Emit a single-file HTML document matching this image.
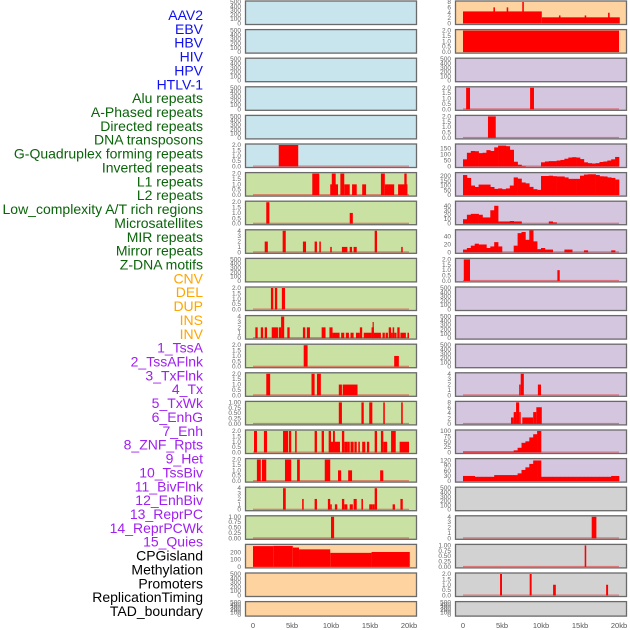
<!DOCTYPE html>
<html><head><meta charset="utf-8"><style>
html,body{margin:0;padding:0;background:#fff;width:630px;height:630px;overflow:hidden}
svg{display:block}
text{font-family:"Liberation Sans",sans-serif}
</style></head><body>
<svg id="chart" width="630" height="630"></svg>
<script>
// ---- labels ----
const trackLabels=["AAV2","EBV","HBV","HIV","HPV","HTLV-1","Alu repeats","A-Phased repeats","Directed repeats","DNA transposons","G-Quadruplex forming repeats","Inverted repeats","L1 repeats","L2 repeats","Low_complexity A/T rich regions","Microsatellites","MIR repeats","Mirror repeats","Z-DNA motifs","CNV","DEL","DUP","INS","INV","1_TssA","2_TssAFlnk","3_TxFlnk","4_Tx","5_TxWk","6_EnhG","7_Enh","8_ZNF_Rpts","9_Het","10_TssBiv","11_BivFlnk","12_EnhBiv","13_ReprPC","14_ReprPCWk","15_Quies","CPGisland","Methylation","Promoters","ReplicationTiming","TAD_boundary"];
const xTickLabels=["0","5kb","10kb","15kb","20kb"];
const xTickValues=[0,5,10,15,20];
// ---- left column bars [startKb,endKb,value] ----
const L5=[[3.3,5.8,2]];
const L6=[[7.6,8.5,2],[9.9,10.9,1],[10.1,10.6,2],[11.2,11.7,2],[11.7,12.4,1],[12.7,13.3,1],[14.0,14.5,1],[16.4,16.9,2],[16.9,18.1,1],[18.6,19.8,1],[19.4,19.7,2]];
const L7=[[1.7,2.1,2],[12.4,12.8,1]];
const L8=[[1.5,1.9,2],[3.8,4.2,4],[6.4,6.8,2],[7.9,8.2,2],[8.5,8.7,2],[9.9,10.1,1],[11.4,12.1,1],[12.4,12.7,1],[12.9,13.3,1],[15.6,15.9,4],[19.0,19.2,1]];
const L10=[[2.3,2.6,2],[2.8,3.1,2],[3.7,4.1,2]];
const L11=[[0.3,0.6,2],[1.0,1.3,2],[1.5,1.8,2],[2.4,3.2,2],[3.3,3.6,2],[3.6,4.0,4],[4.4,4.7,2],[6.4,6.7,2],[6.9,7.3,2],[8.8,9.3,2],[9.8,10.2,2],[10.2,11.1,1],[11.3,11.7,1],[11.9,12.3,1],[12.5,12.9,1],[13.2,13.7,1],[13.7,14.0,2],[14.2,15.2,1],[15.2,15.5,2],[15.33,15.43,3],[15.5,16.4,1],[16.6,16.9,1],[17.0,17.3,1],[17.4,17.7,2],[17.7,17.9,1],[17.9,18.1,2],[18.1,18.4,1],[18.5,18.8,2],[18.9,19.6,1],[19.8,20.0,1]];
const L12=[[6.5,7.0,2],[18.1,18.7,1]];
const L13=[[1.7,2.2,2],[7.5,7.9,2],[8.2,8.7,2],[11.0,11.4,1],[11.5,13.4,1]];
const L14=[[11.0,11.4,1],[13.9,14.2,1],[14.9,15.3,1],[16.7,16.9,1],[19.0,19.2,1]];
const L15=[[0.13,0.51,2],[1.4,1.8,2],[3.85,4.5,2],[4.6,4.9,2],[5.4,5.6,2],[7.9,8.2,2],[8.8,9.1,2],[9.7,10.0,2],[10.0,10.5,1],[10.25,10.5,2],[10.5,11.15,1],[11.4,11.7,2],[11.7,12.1,1],[12.1,12.4,1],[12.5,12.9,1],[13.0,13.3,1],[13.5,13.7,1],[14.0,14.4,1],[14.6,14.9,1],[15.6,15.9,2],[16.4,16.7,2],[16.7,17.2,1],[17.7,18.3,2],[18.8,20.0,1]];
const L16=[[0.5,1.0,2],[1.15,1.7,2],[4.1,4.9,2],[5.65,6.0,2],[9.2,9.9,2],[10.9,11.3,1],[12.2,12.7,1],[16.3,16.7,1]];
const L17=[[3.85,4.2,4],[6.3,6.5,2],[7.9,8.2,2],[9.6,9.9,2],[9.9,10.1,1],[10.5,10.8,1],[11.4,11.7,2],[11.7,12.1,1],[12.4,12.8,1],[12.9,13.3,2],[13.9,14.1,2],[14.9,15.3,1],[15.3,15.6,1],[15.6,15.9,4],[17.9,18.2,1],[18.9,19.2,2]];
const L18=[[10.0,10.4,1]];
const L19=[[0,2.6,290],[2.6,5.1,293],[5.1,5.9,270],[5.9,9.9,245],[9.9,15.2,196],[15.2,20.1,208]];
// ---- right column ----
const R0=[[0,10.1,4.5],[10.1,20.1,2.3],[3.9,4.1,6],[5.6,5.8,6],[7.6,7.8,8],[12.3,12.5,3],[15.6,15.8,3],[18.6,18.8,4]];
const R1=[[0,20,2]];
const R3=[[0.4,0.9,2],[8.6,9.1,2]];
const R4=[[3.2,4.2,2]];
const R5hist=[60,115,130,128,112,115,137,130,160,175,175,170,140,40,15,5,0,0,0,0,35,42,45,45,50,55,65,75,78,75,62,35,28,25,28,38,42,50,60,80];
const R6hist=[210,180,100,85,110,110,110,85,65,70,62,70,100,185,172,132,123,86,62,55,200,200,203,198,195,195,185,170,170,170,203,215,218,218,210,197,195,185,180,163];
const R7hist=[10,20,22,22,20,14,14,30,40,5,5,5,6,5,5,0,0,0,0,0,0,0,5,3,0,0,0,0,0,0,0,0,0,0,0,0,0,0,0,0];
const R8hist=[7,11,17,22,20,20,11,15,26,15,0,0,0,17,49,52,32,58,28,8,11,7,7,0,0,0,7,7,0,0,0,5,0,0,0,0,0,0,5,0];
const R9=[[0.1,0.9,2],[12.1,12.4,1]];
const R13=[[7.2,7.4,2],[7.4,7.8,4],[9.6,10.0,2]];
const R14=[[6.15,6.5,2.4],[6.5,6.8,4.4],[6.8,7.2,8],[7.2,7.4,4.4],[7.6,9.0,2.4],[9.0,9.4,4.4],[9.4,10.1,6.2]];
const R15hist=[5,5,5,5,5,5,5,5,5,5,5,5,5,10,22,45,52,70,85,100,0,0,0,0,0,0,0,0,0,0,0,0,0,0,0,0,0,0,0,0];
const R16hist=[30,30,30,25,25,25,25,25,35,35,35,35,35,35,45,65,80,100,120,120,25,25,25,25,25,25,25,25,25,25,25,25,25,25,25,25,25,25,30,30];
const R18=[[16.5,17.1,4]];
const R19=[[15.6,15.8,1]];
const R20=[[4.75,5.0,2],[8.55,8.8,2],[11.55,11.9,1],[18.35,18.6,1]];
// ---- tick label sets ----
const T500=["0","100","200","300","400","500"], T2=["0.0","0.5","1.0","1.5","2.0"], T4=["0","1","2","3","4"], T1=["0.00","0.25","0.50","0.75","1.00"], T8=["0","2","4","6","8"];

const BL="#c8e4ec",GR="#c9e1a3",OR="#ffd39f",PU="#d5c6e0",GY="#d2d2d2";
const leftPanels=[
 {bg:BL,t:T500},{bg:BL,t:T500},{bg:BL,t:T500},{bg:BL,t:T500},{bg:BL,t:T500},
 {bg:BL,t:T2,max:2,bars:L5},{bg:GR,t:T2,max:2,bars:L6},{bg:GR,t:T2,max:2,bars:L7},{bg:GR,t:T4,max:4,bars:L8},{bg:GR,t:T500},
 {bg:GR,t:T2,max:2,bars:L10},{bg:GR,t:T4,max:4,bars:L11},{bg:GR,t:T2,max:2,bars:L12},{bg:GR,t:T2,max:2,bars:L13},{bg:GR,t:T1,max:1,bars:L14},
 {bg:GR,t:T2,max:2,bars:L15},{bg:GR,t:T2,max:2,bars:L16},{bg:GR,t:T4,max:4,bars:L17},{bg:GR,t:T1,max:1,bars:L18},
 {bg:OR,t:["0","100","200"],tv:[0,100,200],max:300,bars:L19,nobase:true},{bg:OR,t:T500},{bg:OR,t:T500}];
const rightPanels=[
 {bg:OR,t:T8,max:8,bars:R0,nobase:true},{bg:OR,t:T2,max:2,bars:R1,nobase:true},{bg:PU,t:T500},{bg:PU,t:T2,max:2,bars:R3},{bg:PU,t:T2,max:2,bars:R4},
 {bg:PU,t:["0","50","100","150"],tv:[0,50,100,150],max:180,hist:R5hist},{bg:PU,t:["0","50","100","150","200"],tv:[0,50,100,150,200],max:225,hist:R6hist},
 {bg:PU,t:["0","10","20","30","40"],max:48,tv:[0,10,20,30,40],hist:R7hist},{bg:PU,t:["0","20","40"],tv:[0,20,40],max:55,hist:R8hist},{bg:PU,t:T2,max:2,bars:R9},
 {bg:PU,t:T500},{bg:PU,t:T500},{bg:PU,t:T500},{bg:PU,t:T4,max:4,bars:R13},{bg:PU,t:T8,max:8,bars:R14},
 {bg:PU,t:["0","25","50","75","100"],max:100,hist:R15hist},{bg:PU,t:["0","30","60","90","120"],max:125,tv:[0,30,60,90,120],hist:R16hist},
 {bg:GY,t:T500},{bg:GY,t:T4,max:4,bars:R18},{bg:GY,t:T1,max:1,bars:R19},{bg:GY,t:T2,max:2,bars:R20},{bg:GY,t:T500}];

const NS="http://www.w3.org/2000/svg";
const svg=document.getElementById('chart');
function mk(tag,attrs,parent){const e=document.createElementNS(NS,tag);for(const k in attrs)e.setAttribute(k,attrs[k]);(parent||svg).appendChild(e);return e;}

// labels
const labelColor=i=>i<6?"#1010ee":i<19?"#0a640a":i<24?"#ffa500":i<39?"#a020f0":"#000";
trackLabels.forEach((s,i)=>{
  const t=mk('text',{x:203,y:15+i*(596/43)*1+5,'text-anchor':'end','font-size':'14',fill:labelColor(i)});
  t.textContent=s;
  
  
});

function drawCol(panels,x0,name){
  const w=172;
  const kx=kb=>x0+8+kb*7.8;
  panels.forEach((p,i)=>{
    const top=i*28.6+0.5, h=(i===21)?15.5:24.5, bot=top+h;
    const g=mk('g',{});
    
    
    mk('rect',{x:x0,y:top,width:w,height:h,fill:p.bg},g);
    const max=p.max||500;
    const yv=v=>bot-1.5-v/max*(h-3);
    if(p.max && !p.nobase) mk('rect',{x:kx(0),y:bot-2.5,width:kx(20)-kx(0),height:1.2,fill:'#e03030',opacity:0.55},g);
    (p.bars||[]).forEach(b=>{
      const r=mk('rect',{x:kx(b[0]),y:yv(b[2]),width:Math.max(kx(b[1])-kx(b[0]),1.2),height:yv(0)-yv(b[2]),fill:'#ff0000'},g);
      
      
    });
    (p.hist||[]).forEach((v,j)=>{
      if(v<=0)return;
      const r=mk('rect',{x:kx(j*0.5),y:yv(v),width:kx(0.5)-kx(0)+0.3,height:yv(0)-yv(v),fill:'#ff0000'},g);
      
      
    });
    mk('rect',{x:x0+0.5,y:top+0.5,width:w-1,height:h-1,fill:'none',stroke:'#6a6a6a','stroke-width':1.3},g);
    // y ticks
    const n=p.t.length;
    p.t.forEach((s,k)=>{
      const v=p.tv?p.tv[k]:(max*k/(n-1));
      const y=p.max?yv(v):(bot-1.5-k/(n-1)*(h-3));
      const t=mk('text',{x:x0-4,y:y+2,'text-anchor':'end','font-size':'6.5',fill:'#666'},g);
      t.textContent=s;
      
      
    });
  });
  xTickValues.forEach((v,k)=>{
    const t=mk('text',{x:kx(v),y:628,'text-anchor':'middle','font-size':'7.5',fill:'#555'});
    t.textContent=xTickLabels[k];
    
    
  });
}
drawCol(leftPanels,245,'left');
drawCol(rightPanels,455,'right');
</script>
</body></html>
